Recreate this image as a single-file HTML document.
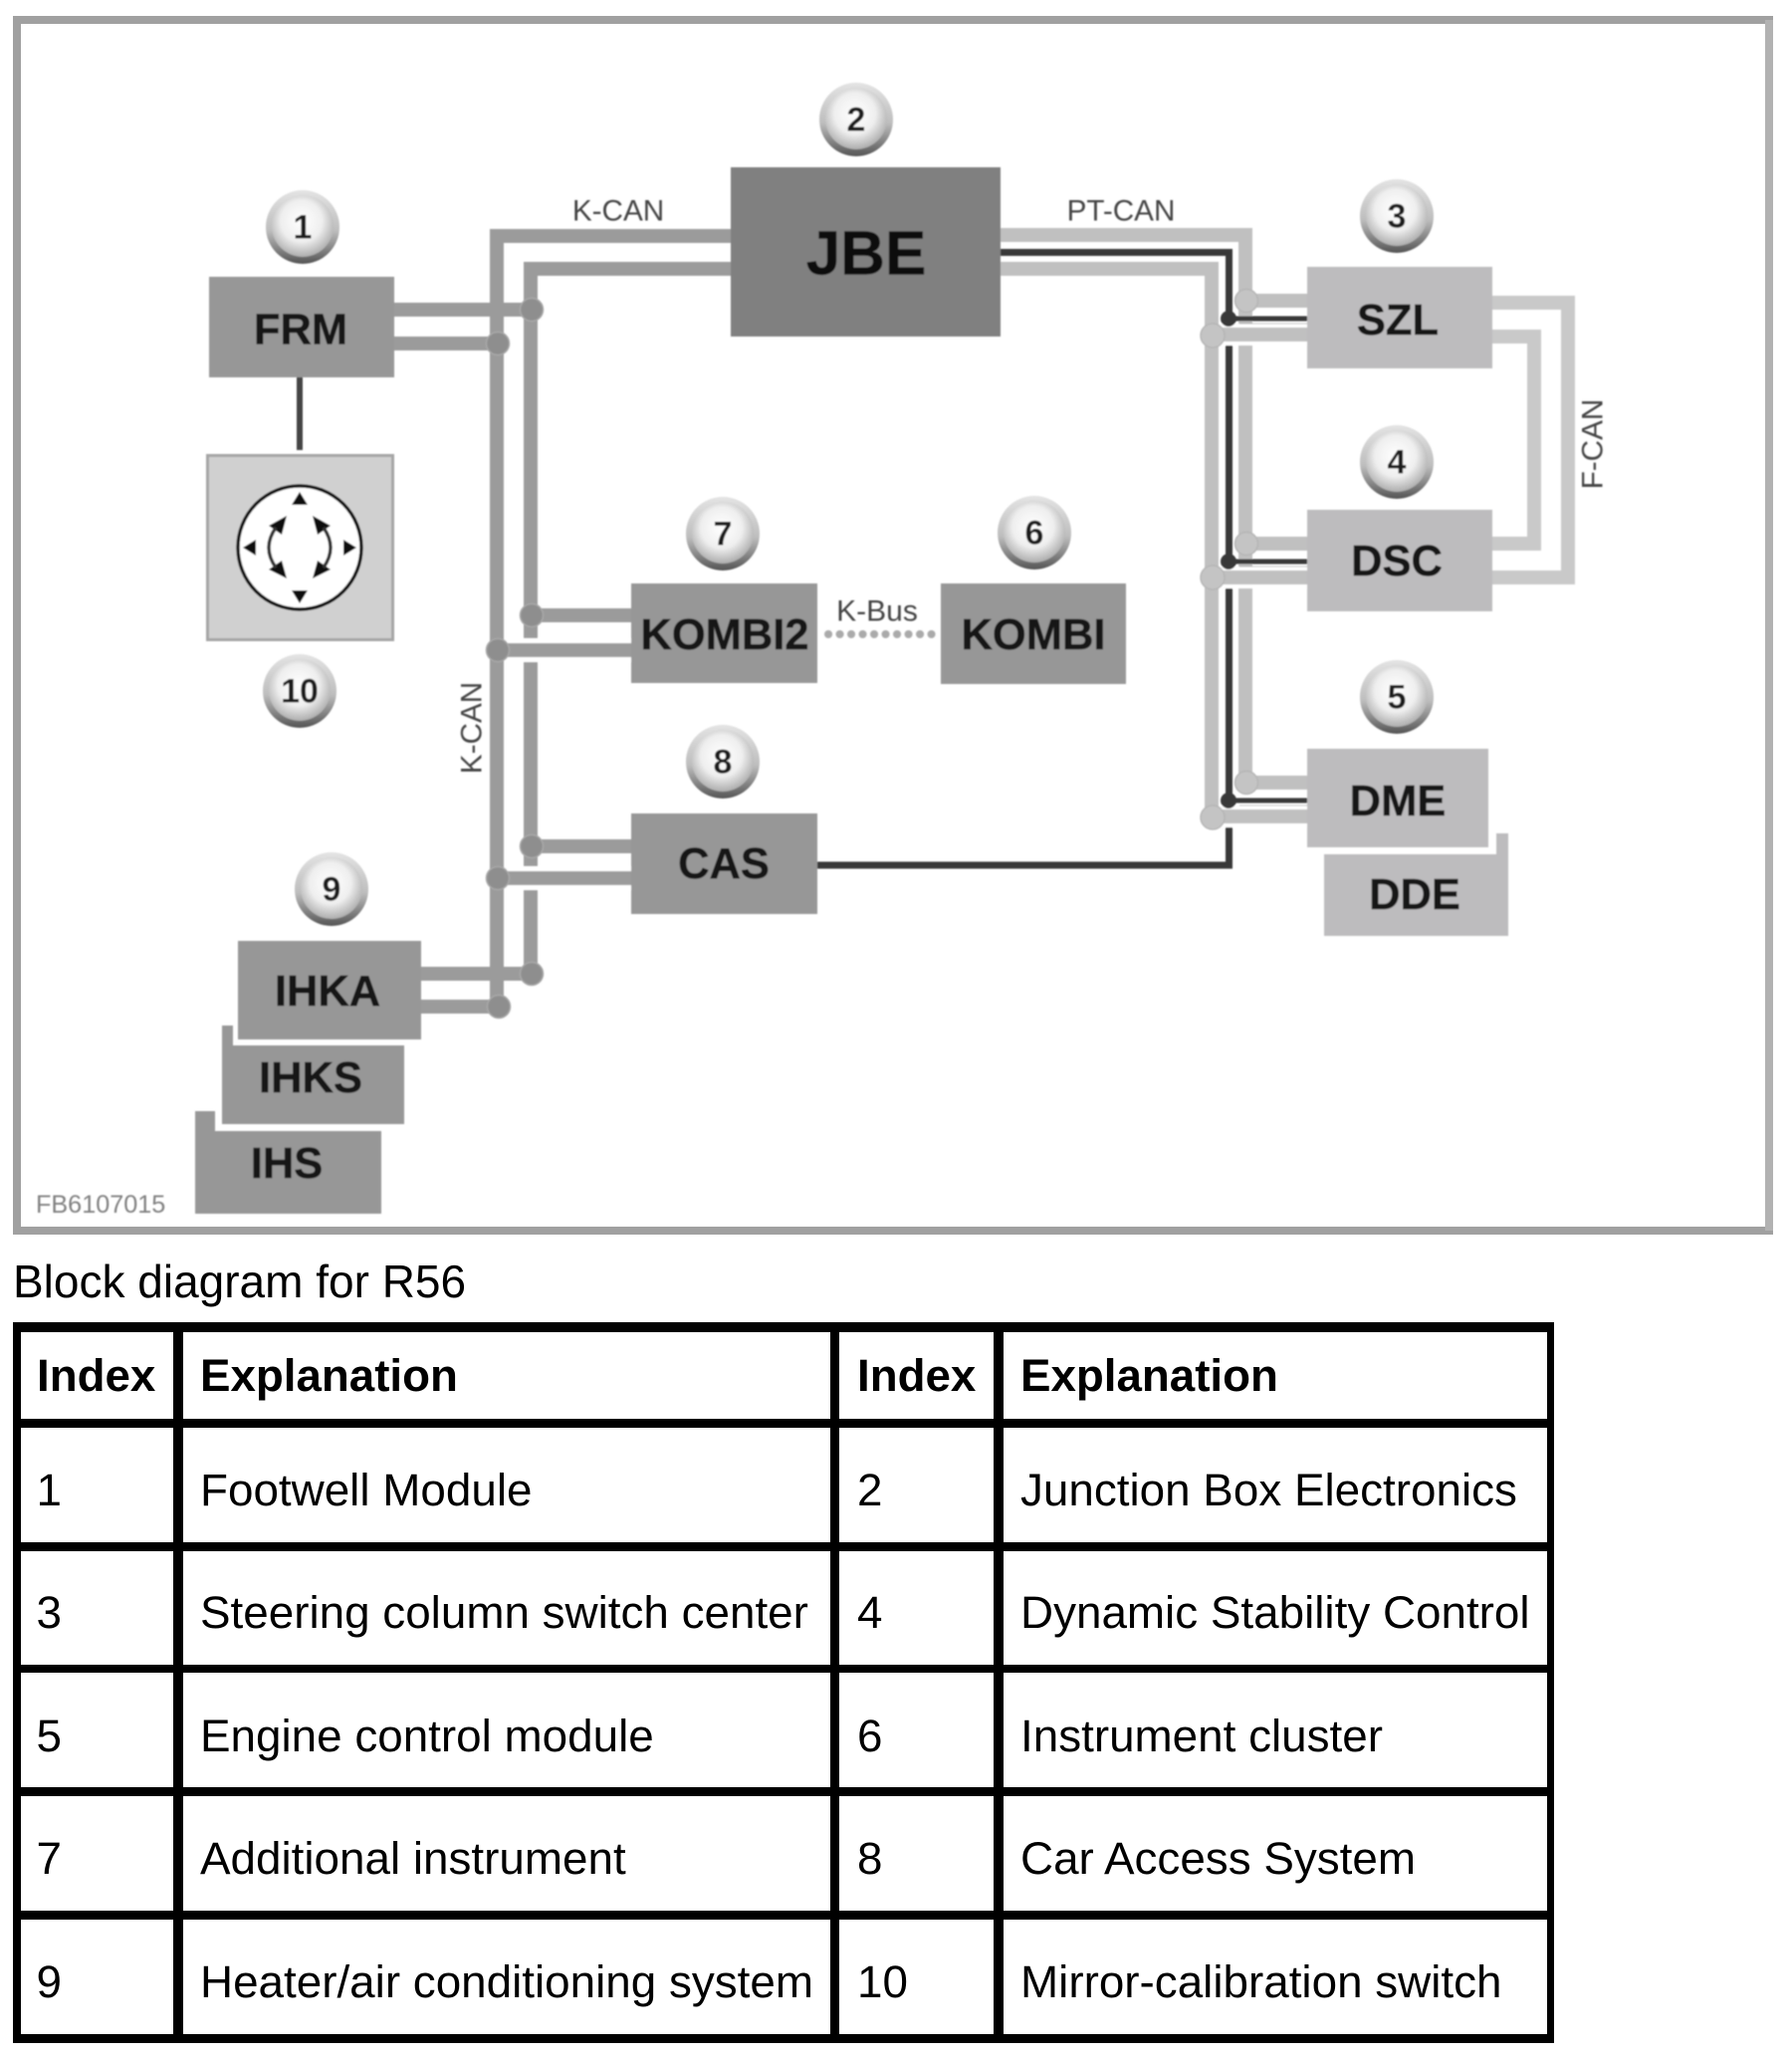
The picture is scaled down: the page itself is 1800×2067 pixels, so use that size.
<!DOCTYPE html>
<html><head><meta charset="utf-8"><title>Block diagram for R56</title>
<style>
html,body{margin:0;padding:0;background:#fff;width:1800px;height:2067px;overflow:hidden}
svg{position:absolute;left:0;top:0;display:block}
text{font-family:"Liberation Sans",Arial,sans-serif}
.n{font-weight:bold;font-size:43.5px;fill:#161616;stroke:#161616;stroke-width:.5px;text-anchor:middle;dominant-baseline:central}
.l{font-size:29.7px;fill:#444;text-anchor:middle;dominant-baseline:central}
.b{font-weight:bold;font-size:34px;fill:#1c1c1c;text-anchor:middle;dominant-baseline:central}
.t{font-size:45.8px;fill:#000}
.h{font-size:45.7px;fill:#000;font-weight:bold}
</style></head>
<body>
<svg width="1800" height="2067" viewBox="0 0 1800 2067" xmlns="http://www.w3.org/2000/svg">
<defs>
<radialGradient id="g" cx="48%" cy="42%" r="60%"><stop offset="0" stop-color="#fff"/><stop offset=".55" stop-color="#efefef"/><stop offset="1" stop-color="#a8a8a8"/></radialGradient>
<linearGradient id="e" x1="0" y1="0" x2="0" y2="1"><stop offset="0" stop-color="#e4e4e4"/><stop offset=".55" stop-color="#bdbdbd"/><stop offset="1" stop-color="#555"/></linearGradient>
<filter id="s" x="-2%" y="-2%" width="104%" height="104%"><feGaussianBlur stdDeviation="0.7"/></filter>
<g id="c"><circle r="37" fill="url(#e)"/><circle r="31" cy="-1" fill="url(#g)"/></g>
</defs>
<rect x="17" y="20" width="1760" height="1216" fill="#fff" stroke="#a0a0a0" stroke-width="8"/>
<rect x="1773" y="20" width="8" height="1216" fill="#b2b2b2"/>
<g filter="url(#s)">
<!-- K-CAN -->
<g fill="none" stroke="#9b9b9b" stroke-width="14">
<path d="M734 237H499V1011"/>
<path d="M734 270H533V978"/>
</g>
<g stroke="#fff" stroke-width="24" fill="none">
<path d="M510 653H634M510 882H634"/>
</g>
<g stroke="#9b9b9b" stroke-width="14" fill="none">
<path d="M396 311H533M396 345H500"/>
<path d="M533 618H634M500 653H634"/>
<path d="M533 850H634M500 882H634"/>
<path d="M423 978H533M423 1011H500"/>
</g>
<g fill="#8e8e8e" stroke="#a8a8a8" stroke-width="1.5">
<circle cx="534" cy="311" r="11.500"/><circle cx="500" cy="345" r="11.500"/>
<circle cx="534" cy="618" r="11.500"/><circle cx="500" cy="653" r="11.500"/>
<circle cx="534" cy="850" r="11.500"/><circle cx="500" cy="882" r="11.500"/>
<circle cx="534" cy="978" r="11.500"/><circle cx="501" cy="1011" r="11.500"/>
</g>
<!-- F-CAN -->
<g fill="none" stroke="#c9c9c9" stroke-width="14">
<path d="M1499 304H1575V580H1499"/>
<path d="M1499 338H1541V546H1499"/>
</g>
<!-- PT-CAN -->
<g fill="none" stroke="#c0c0c0" stroke-width="14">
<path d="M1005 236H1251V786"/>
<path d="M1005 270H1217V820"/>
</g>
<path d="M1005 253.500H1234.500V869H821" fill="none" stroke="#383838" stroke-width="7"/>
<g stroke="#fff" stroke-width="22" fill="none"><path d="M1225 336H1313M1225 580H1313M1225 820H1313"/></g>
<g fill="none" stroke="#c0c0c0" stroke-width="14">
<path d="M1251 302H1313M1251 546H1313M1251 786H1313"/>
<path d="M1217 336H1313M1217 580H1313M1217 820H1313"/>
</g>
<g stroke="#383838" stroke-width="5" fill="none"><path d="M1234 320H1313M1234 564H1313M1234 804H1313"/></g>
<g stroke="#9a9a9a" stroke-width="1" fill="none" opacity=".6"><path d="M1245 325H1313M1245 569H1313M1245 809H1313"/></g>
<g fill="#c4c4c4" stroke="#b5b5b5" stroke-width="1.500">
<circle cx="1252" cy="302" r="11.500"/><circle cx="1252" cy="546" r="11.500"/><circle cx="1252" cy="786" r="11.500"/>
<circle cx="1218" cy="337" r="12"/><circle cx="1218" cy="580" r="12"/><circle cx="1218" cy="821" r="12"/>
</g>
<g fill="#383838"><circle cx="1234" cy="320" r="8"/><circle cx="1234" cy="564" r="8"/><circle cx="1234" cy="804" r="8"/></g>
<!-- FRM to switch -->
<path d="M301 379V452" stroke="#444" stroke-width="6" fill="none"/>
<!-- K-Bus dots -->
<path d="M832 637H942" stroke="#aaa" stroke-width="8" stroke-linecap="round" stroke-dasharray="0.1 11.400" fill="none"/>
<!-- Boxes -->
<rect x="734" y="168" width="271" height="170" fill="#808080"/>
<g fill="#979797">
<rect x="210" y="278" width="186" height="101"/>
<rect x="634" y="586" width="187" height="100"/>
<rect x="945" y="586" width="186" height="101"/>
<rect x="634" y="817" width="187" height="101"/>
<path d="M196 1116H216V1136H383V1219H196Z"/>
<path d="M223 1030H234V1050H406V1129H223Z"/>
<rect x="239" y="945" width="184" height="99"/>
</g>
<g fill="#bdbcbe">
<rect x="1313" y="268" width="186" height="102"/>
<rect x="1313" y="512" width="186" height="102"/>
<path d="M1503 837H1515V940H1330V858H1503Z"/>
<rect x="1313" y="752" width="182" height="99"/>
</g>
<!-- Switch -->
<rect x="208.500" y="457.500" width="186" height="185" fill="#d0d0d0" stroke="#a5a5a5" stroke-width="3"/>
<circle cx="301" cy="550" r="62" fill="#fff" stroke="#111" stroke-width="3.500"/>
<g fill="#111">
<path d="M301 494L309 507H293Z"/><path d="M301 606L309 593H293Z"/>
<path d="M244 550L257 542V558Z"/><path d="M358 550L345 542V558Z"/>
<path d="M288 518L270 528L283 537Z"/><path d="M314 518L332 528L319 537Z"/>
<path d="M288 581L270 572L283 563Z"/><path d="M314 581L332 572L319 563Z"/>
</g>
<g fill="none" stroke="#333" stroke-width="3.500"><path d="M277 530Q263 550 277 570"/><path d="M325 530Q339 550 325 570"/></g>
<!-- Badges -->
<use href="#c" x="304" y="228"/><use href="#c" x="860" y="120"/><use href="#c" x="1403" y="217"/>
<use href="#c" x="1403" y="464"/><use href="#c" x="1403" y="700"/><use href="#c" x="1039" y="535"/>
<use href="#c" x="726" y="536"/><use href="#c" x="726" y="765"/><use href="#c" x="333" y="893"/><use href="#c" x="301" y="694"/>
<text class="b" x="304" y="228.500">1</text><text class="b" x="860" y="120.500">2</text><text class="b" x="1403" y="217.500">3</text>
<text class="b" x="1403" y="464.500">4</text><text class="b" x="1403" y="700.500">5</text><text class="b" x="1039" y="535.500">6</text>
<text class="b" x="726" y="536.500">7</text><text class="b" x="726" y="765.500">8</text><text class="b" x="333" y="893.500">9</text><text class="b" x="301" y="694.500">10</text>
<!-- Labels -->
<text class="n" x="870" y="255" style="font-size:62px;fill:#111;stroke:#111">JBE</text>
<text class="n" x="302" y="331.500">FRM</text>
<text class="n" x="728" y="638">KOMBI2</text>
<text class="n" x="1038" y="638">KOMBI</text>
<text class="n" x="1404" y="322">SZL</text>
<text class="n" x="1403" y="564">DSC</text>
<text class="n" x="1404" y="805">DME</text>
<text class="n" x="1421" y="899">DDE</text>
<text class="n" x="727" y="868">CAS</text>
<text class="n" x="329" y="996">IHKA</text>
<text class="n" x="312" y="1083">IHKS</text>
<text class="n" x="288" y="1169">IHS</text>
<text class="l" x="621" y="212">K-CAN</text>
<text class="l" x="1126" y="212">PT-CAN</text>
<text class="l" x="881" y="614" style="font-size:30px">K-Bus</text>
<text class="l" transform="translate(1600 446) rotate(-90)">F-CAN</text>
<text class="l" transform="translate(474 731) rotate(-90)">K-CAN</text>
<text x="36" y="1218" font-size="25.2" fill="#808080">FB6107015</text>
</g>
<text x="13" y="1303" font-size="46" fill="#000">Block diagram for R56</text>
<!-- Table -->
<g fill="#000">
<rect x="13" y="1328" width="1548" height="10"/>
<rect x="13" y="1425" width="1548" height="9"/>
<rect x="13" y="1549" width="1548" height="9"/>
<rect x="13" y="1672" width="1548" height="8"/>
<rect x="13" y="1795" width="1548" height="9"/>
<rect x="13" y="1919" width="1548" height="9"/>
<rect x="13" y="2043" width="1548" height="9"/>
<rect x="13" y="1328" width="8" height="724"/>
<rect x="174" y="1328" width="10" height="724"/>
<rect x="834" y="1328" width="9" height="724"/>
<rect x="998" y="1328" width="10" height="724"/>
<rect x="1554" y="1328" width="7" height="724"/>
</g>
<text class="h" x="37" y="1397">Index</text><text class="h" x="201" y="1397">Explanation</text><text class="h" x="861" y="1397">Index</text><text class="h" x="1025" y="1397">Explanation</text>
<text class="t" x="36.500" y="1512">1</text><text class="t" x="201" y="1512">Footwell Module</text><text class="t" x="861" y="1512">2</text><text class="t" x="1025" y="1512">Junction Box Electronics</text>
<text class="t" x="36.500" y="1635">3</text><text class="t" x="201" y="1635">Steering column switch center</text><text class="t" x="861" y="1635">4</text><text class="t" x="1025" y="1635">Dynamic Stability Control</text>
<text class="t" x="36.500" y="1759">5</text><text class="t" x="201" y="1759">Engine control module</text><text class="t" x="861" y="1759">6</text><text class="t" x="1025" y="1759">Instrument cluster</text>
<text class="t" x="36.500" y="1882">7</text><text class="t" x="201" y="1882">Additional instrument</text><text class="t" x="861" y="1882">8</text><text class="t" x="1025" y="1882">Car Access System</text>
<text class="t" x="36.500" y="2006">9</text><text class="t" x="201" y="2006">Heater/air conditioning system</text><text class="t" x="861" y="2006">10</text><text class="t" x="1025" y="2006">Mirror-calibration switch</text>
</svg>
</body></html>
